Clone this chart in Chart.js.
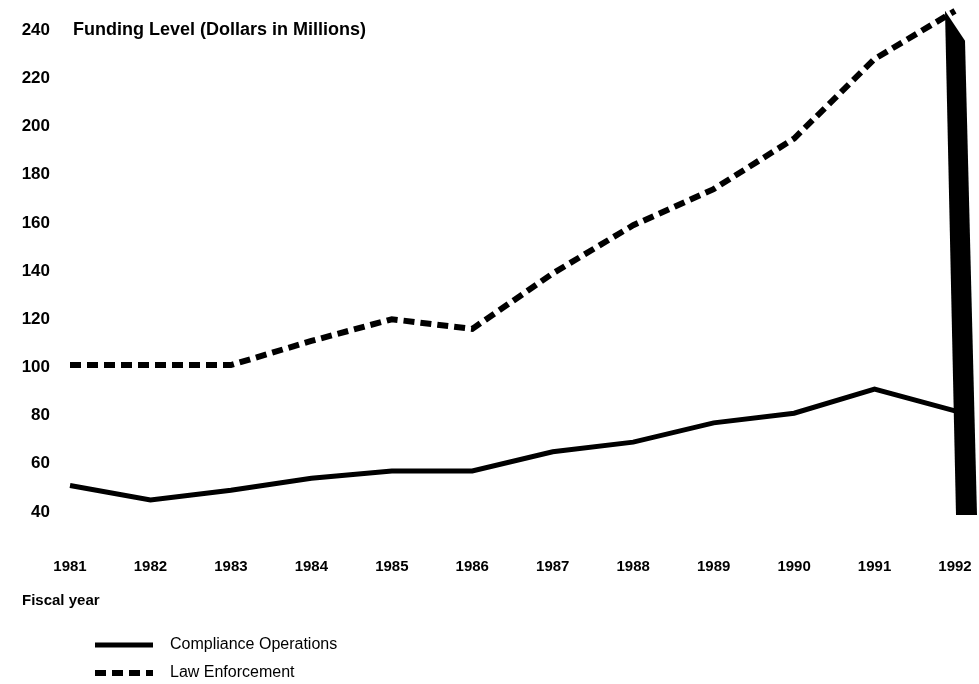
<!DOCTYPE html>
<html>
<head>
<meta charset="utf-8">
<script src="https://cdn.jsdelivr.net/npm/chart.js@4"></script>
<style>
  html, body { margin: 0; padding: 0; background: #fff; }
  #wrap { width: 979px; height: 684px; position: relative; }
</style>
</head>
<body>
<div id="wrap"><canvas id="c" width="979" height="684"></canvas></div>
<script>
const years = ['1981','1982','1983','1984','1985','1986','1987','1988','1989','1990','1991','1992'];
const compliance = [51, 45, 49, 54, 57, 57, 65, 69, 77, 81, 91, 82];
const lawEnforcement = [101, 101, 101, 111, 120, 116, 139, 159, 174, 195, 228, 248];
const yTicks = [40, 60, 80, 100, 120, 140, 160, 180, 200, 220, 240];
const yTitle = 'Funding Level (Dollars in Millions)';
const xTitle = 'Fiscal year';
const seriesNames = ['Compliance Operations', 'Law Enforcement'];

const FONT = '"Liberation Sans", Arial, sans-serif';

const overlay = {
  id: 'overlay',
  afterDatasetsDraw(chart) {
    const ctx = chart.ctx;
    const ys = chart.scales.y;
    const meta = chart.getDatasetMeta(1);
    const last = meta.data[meta.data.length - 1];
    const yBottom = ys.getPixelForValue(yTicks[0]) + 3;
    ctx.save();
    ctx.fillStyle = '#000';
    ctx.beginPath();
    ctx.moveTo(last.x - 10, last.y);
    ctx.lineTo(last.x + 10, last.y + 30);
    ctx.lineTo(last.x + 22, yBottom);
    ctx.lineTo(last.x + 1, yBottom);
    ctx.closePath();
    ctx.fill();
    ctx.restore();
  },
  afterDraw(chart) {
    const ctx = chart.ctx;
    const ys = chart.scales.y;
    ctx.save();
    ctx.fillStyle = '#000';
    ctx.textBaseline = 'middle';
    ctx.textAlign = 'left';
    ctx.font = 'bold 18px ' + FONT;
    ctx.fillText(yTitle, 73, ys.getPixelForValue(yTicks[yTicks.length - 1]));
    ctx.font = 'bold 15px ' + FONT;
    ctx.fillText(xTitle, 22, 601);
    const ds = chart.data.datasets;
    const rows = [645, 673];
    ds.forEach((d, i) => {
      const y = rows[i];
      ctx.beginPath();
      ctx.strokeStyle = d.borderColor;
      ctx.lineWidth = d.borderWidth;
      ctx.setLineDash(d.borderDash || []);
      ctx.moveTo(95, y);
      ctx.lineTo(153, y);
      ctx.stroke();
      ctx.setLineDash([]);
      ctx.font = '16px ' + FONT;
      ctx.fillText(d.label, 170, y);
    });
    ctx.restore();
  }
};

new Chart(document.getElementById('c'), {
  type: 'line',
  data: {
    labels: years,
    datasets: [
      {
        label: seriesNames[0],
        data: compliance,
        borderColor: '#000',
        borderWidth: 5,
        pointRadius: 0,
        tension: 0,
        fill: false
      },
      {
        label: seriesNames[1],
        data: lawEnforcement,
        borderColor: '#000',
        borderWidth: 6,
        borderDash: [11, 6],
        pointRadius: 0,
        tension: 0,
        fill: false
      }
    ]
  },
  options: {
    responsive: false,
    animation: false,
    devicePixelRatio: 1,
    layout: { padding: { top: 6, right: 24, left: 0, bottom: 0 } },
    plugins: {
      legend: { display: false },
      tooltip: { enabled: false },
      title: { display: false }
    },
    scales: {
      x: {
        type: 'category',
        offset: false,
        grid: { display: false, drawTicks: false },
        border: { display: false },
        ticks: {
          color: '#000',
          padding: 46,
          maxRotation: 0,
          autoSkip: false,
          font: { family: FONT, size: 15, weight: 'bold' }
        },
        afterFit(s) {
          s.height = 684 - 512;
          s.paddingLeft = 0; s.paddingRight = 0;
        }
      },
      y: {
        min: 40,
        max: 250,
        grid: { display: false, drawTicks: false },
        border: { display: false },
        afterBuildTicks(s) { s.ticks = yTicks.map(v => ({ value: v })); },
        ticks: {
          color: '#000',
          padding: 20,
          font: { family: FONT, size: 17, weight: 'bold' }
        },
        afterFit(s) {
          s.width = 70;
          s.paddingTop = 0; s.paddingBottom = 0;
        }
      }
    }
  },
  plugins: [overlay]
});
</script>
</body>
</html>
